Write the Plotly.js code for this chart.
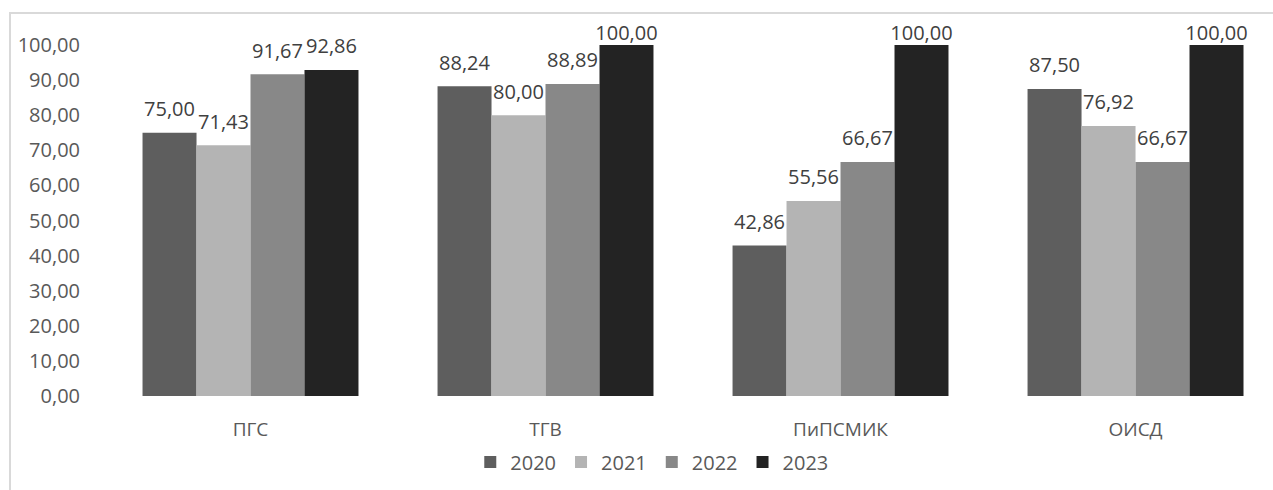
<!DOCTYPE html>
<html>
<head>
<meta charset="utf-8">
<script src="https://cdn.plot.ly/plotly-3.0.1.min.js"></script>
<style>
html,body{margin:0;padding:0;background:#fff;}
#wrap{position:relative;width:1273px;height:490px;overflow:hidden;}
#chart{width:1273px;height:490px;}
#frame{position:absolute;left:9px;top:12px;width:1400px;height:600px;border-top:2px solid #d9d9d9;border-left:2px solid #d9d9d9;pointer-events:none;}
</style>
</head>
<body>
<div id="wrap"><div id="chart"></div><div id="frame"></div></div>
<script>
const categories = ["ПГС", "ТГВ", "ПиПСМИК", "ОИСД"];
const years = ["2020", "2021", "2022", "2023"];
const v2020 = [75.00, 88.24, 42.86, 87.50];
const v2021 = [71.43, 80.00, 55.56, 76.92];
const v2022 = [91.67, 88.89, 66.67, 66.67];
const v2023 = [92.86, 100.00, 100.00, 100.00];
const colors = ["#5e5e5e", "#b4b4b4", "#888888", "#232323"];
const seriesValues = [v2020, v2021, v2022, v2023];

const FONT = "'Open Sans', sans-serif";
const GAP = 0.268;
const bars = years.map((yr, i) => ({
  type: "bar",
  name: yr,
  x: categories,
  y: seriesValues[i],
  marker: {color: colors[i]},
  hoverinfo: "skip"
}));
// labels are pushed down against the chart top when the bar reaches the axis maximum (as in the original)
const labels = years.map((yr, i) => ({
  type: "scatter",
  mode: "markers+text",
  name: yr + " labels",
  showlegend: false,
  x: categories,
  y: seriesValues[i],
  marker: {size: seriesValues[i].map(v => v >= 100 ? 0 : 17), opacity: 0, color: colors[i]},
  texttemplate: "%{y:.2f}",
  textposition: "top center",
  cliponaxis: false,
  textfont: {family: FONT, size: 20, color: "#404040"},
  hoverinfo: "skip"
}));

const layout = {
  width: 1273, height: 490,
  margin: {l: 103, r: 0, t: 45, b: 94},
  paper_bgcolor: "rgba(0,0,0,0)",
  plot_bgcolor: "rgba(0,0,0,0)",
  separators: ", ",
  barmode: "group",
  bargap: GAP,
  bargroupgap: 0,
  scattermode: "group",
  scattergap: GAP,
  showlegend: true,
  font: {family: FONT, size: 20, color: "#595959"},
  xaxis: {
    range: [-0.5, 3.466],
    showline: false, showgrid: false, zeroline: false,
    ticks: "", ticklabelstandoff: 20,
    tickfont: {family: FONT, size: 19, color: "#595959"},
    fixedrange: true
  },
  yaxis: {
    range: [0, 100],
    dtick: 10,
    tickformat: ".2f",
    showline: false, showgrid: false, zeroline: false,
    ticks: "", ticklabelstandoff: 22,
    tickfont: {family: FONT, size: 20, color: "#595959"},
    fixedrange: true
  },
  legend: {
    orientation: "h",
    xref: "container", yref: "container",
    x: 0.512, xanchor: "center",
    y: 0.057, yanchor: "middle",
    font: {family: FONT, size: 20, color: "#595959"},
    itemwidth: 30,
    traceorder: "normal"
  }
};

Plotly.newPlot("chart", bars.concat(labels), layout, {staticPlot: true, displayModeBar: false});
</script>
</body>
</html>
